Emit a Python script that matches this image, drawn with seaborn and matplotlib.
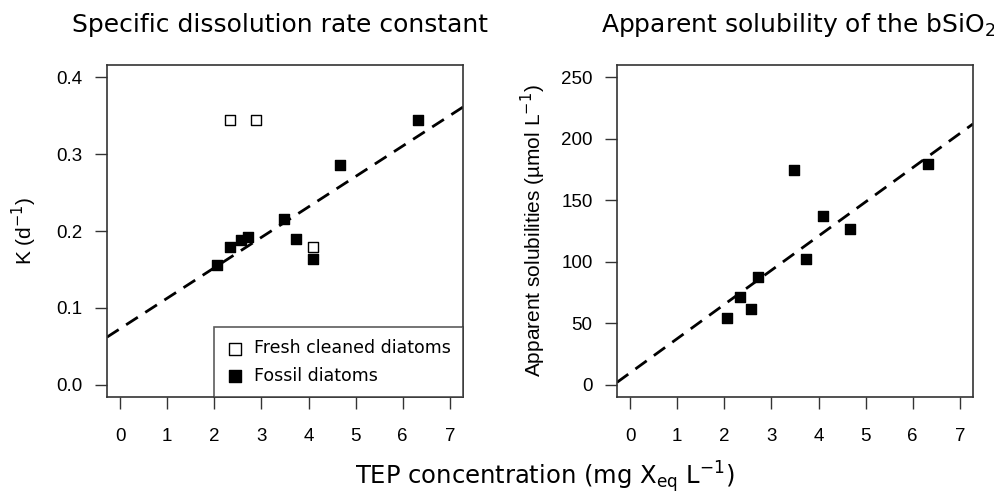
import matplotlib
matplotlib.use("Agg")
import matplotlib.pyplot as plt
import seaborn as sns
import pandas as pd

# ---- data ----
tep_fresh = [2.33, 2.89, 4.10]
k_fresh = [0.345, 0.345, 0.179]
tep_fossil = [2.05, 2.33, 2.56, 2.72, 3.47, 3.74, 4.10, 4.67, 6.33]
k_fossil = [0.156, 0.179, 0.188, 0.192, 0.215, 0.190, 0.164, 0.286, 0.345]
sol_fossil = [53.9, 71.2, 61.7, 87.5, 174.7, 102.4, 136.8, 126.7, 179.6]
groups = ["Fresh cleaned diatoms", "Fossil diatoms"]
k_fit = (0.073, 0.0396)      # intercept, slope
sol_fit = (9.7, 27.8)        # intercept, slope
xticks = [0, 1, 2, 3, 4, 5, 6, 7]
k_ticks = [0.0, 0.1, 0.2, 0.3, 0.4]
k_ticklabels = ["0.0", "0.1", "0.2", "0.3", "0.4"]
sol_ticks = [0, 50, 100, 150, 200, 250]

sns.set_style("white")
plt.rcParams["font.family"] = ["DejaVu Sans"]
plt.rcParams["text.color"] = "black"
plt.rcParams["axes.labelcolor"] = "black"
plt.rcParams["xtick.color"] = "black"
plt.rcParams["ytick.color"] = "black"

df_k = pd.DataFrame({
    "tep": tep_fresh + tep_fossil,
    "k": k_fresh + k_fossil,
    "group": [groups[0]] * len(tep_fresh) + [groups[1]] * len(tep_fossil),
})
df_s = pd.DataFrame({"tep": tep_fossil, "sol": sol_fossil})

fig = plt.figure(figsize=(9.95, 4.96), dpi=100)
W, H = 995, 496
ax1 = fig.add_axes([107 / W, 1 - 397 / H, 356 / W, 332 / H])
ax2 = fig.add_axes([617 / W, 1 - 397 / H, 356 / W, 332 / H])

edge = "#333333"
arial = "Liberation Sans"
msize = 62

# left panel
sns.scatterplot(data=df_k[df_k.group == groups[0]], x="tep", y="k", ax=ax1,
                marker="s", s=msize, facecolor="white", edgecolor="black",
                linewidth=1.0, label=groups[0], zorder=3)
sns.scatterplot(data=df_k[df_k.group == groups[1]], x="tep", y="k", ax=ax1,
                marker="s", s=msize, color="black", edgecolor="black",
                linewidth=1.0, label=groups[1], zorder=3)
ax1.axline((0, k_fit[0]), slope=k_fit[1], color="black", lw=2.0,
           linestyle=(0, (5, 3.2)), zorder=2)
ax1.set_xlim(-0.28, 7.28)
ax1.set_ylim(-0.016, 0.416)
ax1.set_yticks(k_ticks)
ax1.set_yticklabels(k_ticklabels)
ax1.set_ylabel("K (d$^{-1}$)", fontfamily=arial, fontsize=15, va="center")
ax1.yaxis.set_label_coords(-0.233, 0.5)

leg = ax1.legend(loc="lower right", bbox_to_anchor=(1.0, 0.0), borderaxespad=0,
                 frameon=True, fancybox=False, fontsize=12.5,
                 handletextpad=0.6, labelspacing=0.55, borderpad=0.7,
                 handlelength=1.0, markerscale=1.1)
leg.get_frame().set_edgecolor(edge)
leg.get_frame().set_linewidth(1.2)

# right panel
sns.scatterplot(data=df_s, x="tep", y="sol", ax=ax2, marker="s", s=msize,
                color="black", edgecolor="black", linewidth=1.0, zorder=3)
ax2.axline((0, sol_fit[0]), slope=sol_fit[1], color="black", lw=2.0,
           linestyle=(0, (5, 3.2)), zorder=2)
ax2.set_xlim(-0.28, 7.28)
ax2.set_ylim(-10, 260)
ax2.set_yticks(sol_ticks)
ax2.set_ylabel("Apparent solubilities (µmol L$^{-1}$)", fontfamily=arial,
               fontsize=15, va="center")
ax2.yaxis.set_label_coords(-0.236, 0.5)

for ax in (ax1, ax2):
    ax.set_xticks(xticks)
    ax.set_xlabel("")
    for sp in ax.spines.values():
        sp.set_color(edge)
        sp.set_linewidth(1.2)
    ax.tick_params(axis="both", direction="out", length=8.5, width=1.0,
                   color=edge, labelsize=13.5, labelcolor="black",
                   bottom=True, left=True, top=False, right=False)
    ax.tick_params(axis="x", pad=14)
    ax.tick_params(axis="y", pad=9)
    for lab in ax.get_xticklabels() + ax.get_yticklabels():
        lab.set_fontfamily(arial)

fig.text(280 / W, 1 - 32 / H, "Specific dissolution rate constant",
         ha="center", va="baseline", fontsize=18)
fig.text(798 / W, 1 - 32 / H, "Apparent solubility of the bSiO$_2$",
         ha="center", va="baseline", fontsize=18)
fig.text(545 / W, 1 - 484 / H,
         r"TEP concentration (mg X$\mathregular{_{eq}}$ L$\mathregular{^{-1}}$)",
         ha="center", va="baseline", fontsize=17.5)

fig.savefig("out.png", dpi=100)
